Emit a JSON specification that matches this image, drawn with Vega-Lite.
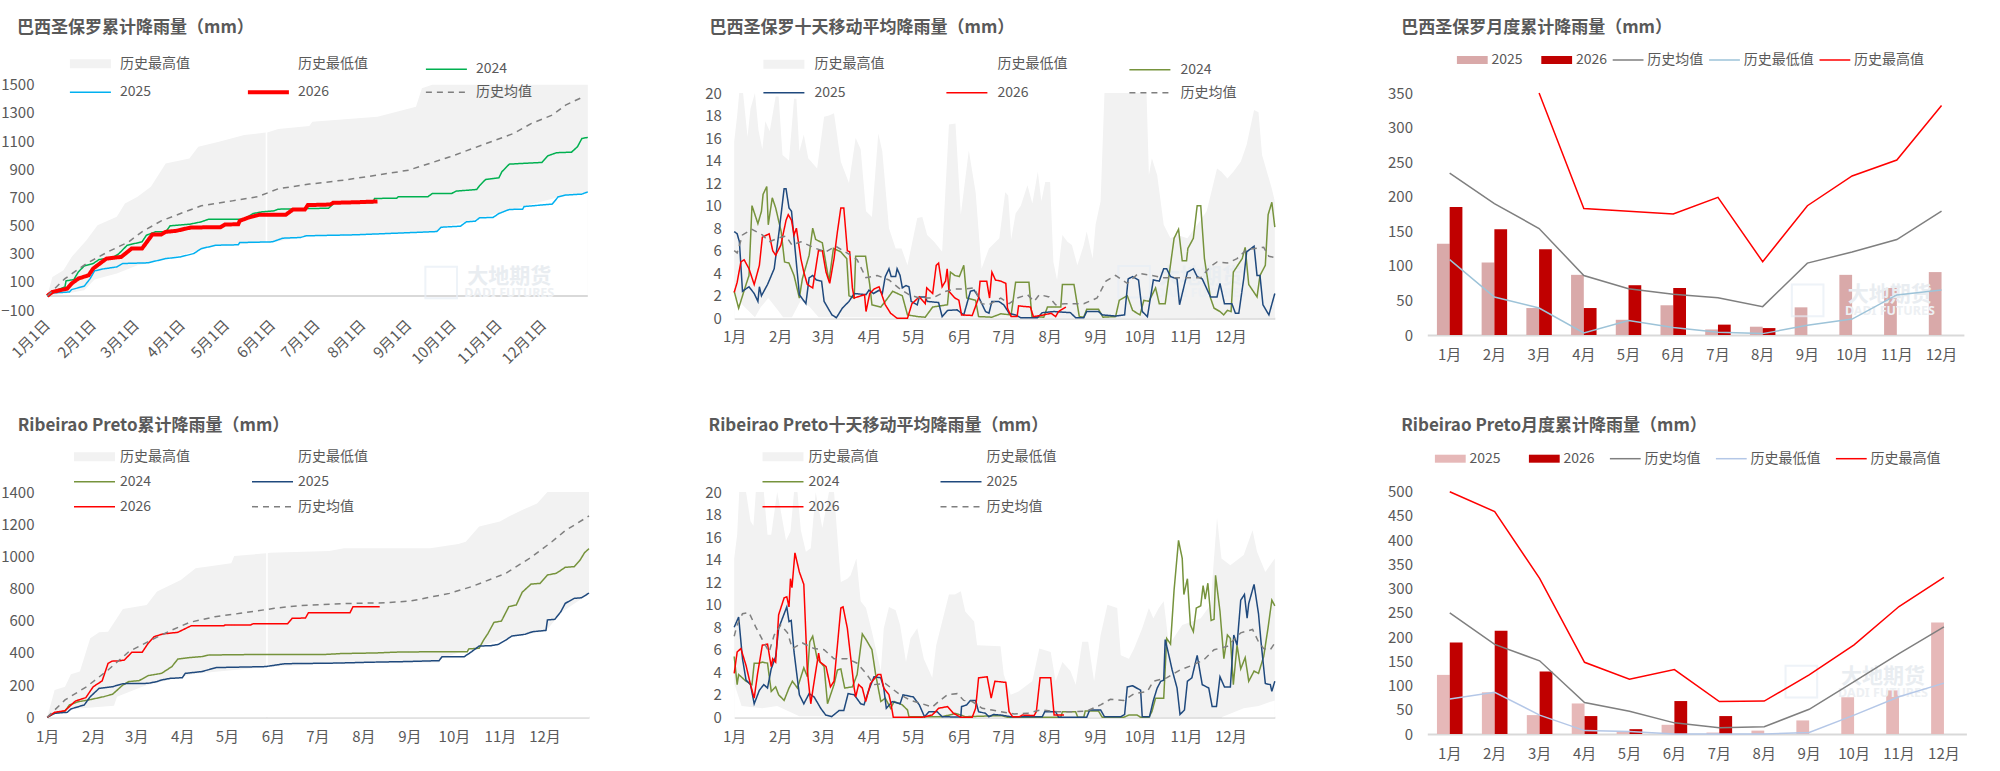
{"$schema":"https://vega.github.io/schema/vega-lite/v6.json","padding":0,"background":"white","bounds":"flush","spacing":0,"columns":3,"align":"each",
"resolve":{"scale":{"color":"independent","strokeWidth":"independent","strokeDash":"independent","xOffset":"independent"},"legend":{"color":"independent","strokeWidth":"independent","strokeDash":"independent"}},
"config":{"view":{"stroke":null},"font":"Noto Sans CJK SC","axis":{"grid":false,"ticks":false,"domain":false,"title":null,"labelFont":"Liberation Sans Narrow, Noto Sans CJK SC","labelFontSize":15,"labelColor":"#595959","labelPadding":0,"labelOverlap":false,"labelBound":false,"labelFlush":false,"domainColor":"#d9d9d9","domainWidth":2},"axisQuantitative":{"format":"d"},"legend":{"orient":"none","direction":"horizontal","title":null,"labelFont":"Liberation Sans Narrow, Noto Sans CJK SC","labelFontSize":14,"labelColor":"#595959","labelLimit":200,"symbolSize":25},"title":{"font":"Noto Sans CJK SC","fontSize":17,"fontWeight":"bold","color":"#595959","anchor":"start","frame":"group","orient":"top","offset":0,"baseline":"alphabetic"}},
"datasets":{
"a":[{"s":"历史最高值","d":1,"v":0},{"s":"历史最高值","d":4.5,"v":135},{"s":"历史最高值","d":12,"v":182},{"s":"历史最高值","d":17.5,"v":277},{"s":"历史最高值","d":27.5,"v":396},{"s":"历史最高值","d":35,"v":502},{"s":"历史最高值","d":48,"v":562},{"s":"历史最高值","d":53.5,"v":656},{"s":"历史最高值","d":62,"v":704},{"s":"历史最高值","d":71,"v":775},{"s":"历史最高值","d":81,"v":941},{"s":"历史最高值","d":97,"v":976},{"s":"历史最高值","d":103,"v":1059},{"s":"历史最高值","d":117,"v":1095},{"s":"历史最高值","d":134,"v":1142},{"s":"历史最高值","d":148.5,"v":1161},{"s":"历史最高值","d":149,"v":null},{"s":"历史最高值","d":149.6,"v":1161},{"s":"历史最高值","d":157,"v":1185},{"s":"历史最高值","d":178,"v":1206},{"s":"历史最高值","d":180,"v":1237},{"s":"历史最高值","d":224,"v":1273},{"s":"历史最高值","d":250,"v":1344},{"s":"历史最高值","d":254,"v":1474},{"s":"历史最高值","d":261,"v":1500},{"s":"历史最高值","d":366,"v":1500},
{"s":"历史最低值","d":1,"v":0},{"s":"历史最低值","d":16,"v":20},{"s":"历史最低值","d":26,"v":40},{"s":"历史最低值","d":33,"v":116},{"s":"历史最低值","d":48,"v":159},{"s":"历史最低值","d":62,"v":218},{"s":"历史最低值","d":69,"v":232},{"s":"历史最低值","d":81,"v":262},{"s":"历史最低值","d":115,"v":357},{"s":"历史最低值","d":153,"v":381},{"s":"历史最低值","d":176,"v":424},{"s":"历史最低值","d":264,"v":455},{"s":"历史最低值","d":267,"v":485},{"s":"历史最低值","d":293,"v":552},{"s":"历史最低值","d":313,"v":611},{"s":"历史最低值","d":346,"v":700},{"s":"历史最低值","d":366,"v":736},
{"s":"2024","d":1,"v":0},{"s":"2024","d":6,"v":35},{"s":"2024","d":13,"v":64},{"s":"2024","d":13.7,"v":107},{"s":"2024","d":19,"v":116},{"s":"2024","d":22,"v":170},{"s":"2024","d":26,"v":213},{"s":"2024","d":32,"v":230},{"s":"2024","d":36,"v":258},{"s":"2024","d":45,"v":272},{"s":"2024","d":49,"v":296},{"s":"2024","d":55,"v":360},{"s":"2024","d":65,"v":384},{"s":"2024","d":68,"v":431},{"s":"2024","d":74,"v":455},{"s":"2024","d":81,"v":455},{"s":"2024","d":84,"v":498},{"s":"2024","d":97,"v":509},{"s":"2024","d":105,"v":526},{"s":"2024","d":110,"v":545},{"s":"2024","d":134,"v":545},{"s":"2024","d":140,"v":585},{"s":"2024","d":146,"v":597},{"s":"2024","d":154,"v":604},{"s":"2024","d":157,"v":616},{"s":"2024","d":191,"v":623},{"s":"2024","d":195,"v":661},{"s":"2024","d":221,"v":661},{"s":"2024","d":222,"v":692},{"s":"2024","d":237,"v":694},{"s":"2024","d":238,"v":704},{"s":"2024","d":258,"v":704},{"s":"2024","d":261,"v":727},{"s":"2024","d":274,"v":727},{"s":"2024","d":277,"v":744},{"s":"2024","d":291,"v":756},{"s":"2024","d":293,"v":784},{"s":"2024","d":297,"v":827},{"s":"2024","d":306,"v":839},{"s":"2024","d":308,"v":882},{"s":"2024","d":313,"v":936},{"s":"2024","d":335,"v":948},{"s":"2024","d":339,"v":995},{"s":"2024","d":345,"v":1017},{"s":"2024","d":355,"v":1021},{"s":"2024","d":359,"v":1059},{"s":"2024","d":362,"v":1118},{"s":"2024","d":366,"v":1126},
{"s":"2025","d":1,"v":0},{"s":"2025","d":4.5,"v":21},{"s":"2025","d":16,"v":28},{"s":"2025","d":17.5,"v":45},{"s":"2025","d":26,"v":69},{"s":"2025","d":30,"v":123},{"s":"2025","d":33,"v":178},{"s":"2025","d":39,"v":192},{"s":"2025","d":48,"v":206},{"s":"2025","d":52,"v":230},{"s":"2025","d":69,"v":235},{"s":"2025","d":81,"v":265},{"s":"2025","d":91,"v":277},{"s":"2025","d":100,"v":301},{"s":"2025","d":105,"v":336},{"s":"2025","d":115,"v":360},{"s":"2025","d":130,"v":363},{"s":"2025","d":131,"v":379},{"s":"2025","d":153,"v":384},{"s":"2025","d":160,"v":410},{"s":"2025","d":172,"v":415},{"s":"2025","d":176,"v":427},{"s":"2025","d":209,"v":434},{"s":"2025","d":264,"v":457},{"s":"2025","d":267,"v":488},{"s":"2025","d":280,"v":495},{"s":"2025","d":284,"v":526},{"s":"2025","d":290,"v":531},{"s":"2025","d":293,"v":555},{"s":"2025","d":302,"v":557},{"s":"2025","d":306,"v":585},{"s":"2025","d":313,"v":614},{"s":"2025","d":322,"v":616},{"s":"2025","d":323,"v":635},{"s":"2025","d":342,"v":652},{"s":"2025","d":346,"v":704},{"s":"2025","d":351,"v":716},{"s":"2025","d":362,"v":723},{"s":"2025","d":366,"v":739},
{"s":"2026","d":1,"v":0},{"s":"2026","d":4.5,"v":28},{"s":"2026","d":14.5,"v":52},{"s":"2026","d":17.5,"v":88},{"s":"2026","d":22,"v":123},{"s":"2026","d":29,"v":147},{"s":"2026","d":32,"v":194},{"s":"2026","d":41,"v":265},{"s":"2026","d":51,"v":277},{"s":"2026","d":58,"v":336},{"s":"2026","d":65,"v":336},{"s":"2026","d":72,"v":436},{"s":"2026","d":78,"v":436},{"s":"2026","d":81,"v":455},{"s":"2026","d":88,"v":462},{"s":"2026","d":98,"v":486},{"s":"2026","d":118,"v":488},{"s":"2026","d":121,"v":507},{"s":"2026","d":130,"v":509},{"s":"2026","d":131,"v":533},{"s":"2026","d":137,"v":557},{"s":"2026","d":144,"v":576},{"s":"2026","d":162,"v":576},{"s":"2026","d":167,"v":614},{"s":"2026","d":175,"v":614},{"s":"2026","d":177,"v":645},{"s":"2026","d":192,"v":649},{"s":"2026","d":194,"v":661},{"s":"2026","d":212,"v":666},{"s":"2026","d":224,"v":671},
{"s":"历史均值","d":1,"v":0},{"s":"历史均值","d":13,"v":123},{"s":"历史均值","d":27.5,"v":230},{"s":"历史均值","d":42,"v":313},{"s":"历史均值","d":56,"v":384},{"s":"历史均值","d":65,"v":455},{"s":"历史均值","d":78,"v":533},{"s":"历史均值","d":91,"v":585},{"s":"历史均值","d":105,"v":640},{"s":"历史均值","d":126,"v":675},{"s":"历史均值","d":143,"v":704},{"s":"历史均值","d":157,"v":761},{"s":"历史均值","d":178,"v":794},{"s":"历史均值","d":201,"v":822},{"s":"历史均值","d":224,"v":858},{"s":"历史均值","d":245,"v":893},{"s":"历史均值","d":273,"v":988},{"s":"历史均值","d":302,"v":1100},{"s":"历史均值","d":316,"v":1154},{"s":"历史均值","d":328,"v":1225},{"s":"历史均值","d":342,"v":1284},{"s":"历史均值","d":351,"v":1355},{"s":"历史均值","d":364,"v":1419}],
"b":[{"s":"历史最高值","d":1,"v":15.7},{"s":"历史最高值","d":3,"v":18},{"s":"历史最高值","d":4.4,"v":20},{"s":"历史最高值","d":7,"v":20},{"s":"历史最高值","d":10,"v":16.1},{"s":"历史最高值","d":12,"v":18.6},{"s":"历史最高值","d":15,"v":20},{"s":"历史最高值","d":17.4,"v":16.7},{"s":"历史最高值","d":20,"v":15},{"s":"历史最高值","d":22,"v":17.5},{"s":"历史最高值","d":25,"v":16.6},{"s":"历史最高值","d":29,"v":19.7},{"s":"历史最高值","d":31,"v":19.7},{"s":"历史最高值","d":33.6,"v":14.5},{"s":"历史最高值","d":38,"v":14},{"s":"历史最高值","d":41.4,"v":19.5},{"s":"历史最高值","d":43,"v":19.5},{"s":"历史最高值","d":45,"v":14.8},{"s":"历史最高值","d":48,"v":16.3},{"s":"历史最高值","d":51,"v":14.2},{"s":"历史最高值","d":57,"v":13.3},{"s":"历史最高值","d":61.7,"v":17.9},{"s":"历史最高值","d":65,"v":18},{"s":"历史最高值","d":68.4,"v":18.2},{"s":"历史最高值","d":73,"v":13.9},{"s":"历史最高值","d":78.5,"v":12},{"s":"历史最高值","d":83,"v":16},{"s":"历史最高值","d":86.4,"v":15},{"s":"历史最高值","d":90,"v":9.5},{"s":"历史最高值","d":94,"v":9},{"s":"历史最高值","d":98.3,"v":16.4},{"s":"历史最高值","d":101,"v":14.8},{"s":"历史最高值","d":105.5,"v":8},{"s":"历史最高值","d":110,"v":6.2},{"s":"历史最高值","d":114,"v":6.2},{"s":"历史最高值","d":118,"v":4.7},{"s":"历史最高值","d":124.6,"v":8.9},{"s":"历史最高值","d":128,"v":9},{"s":"历史最高值","d":131.3,"v":7.4},{"s":"历史最高值","d":136,"v":6.8},{"s":"历史最高值","d":141.4,"v":5.9},{"s":"历史最高值","d":146,"v":17.2},{"s":"历史最高值","d":150.4,"v":17.3},{"s":"历史最高值","d":154,"v":9.2},{"s":"历史最高值","d":159.4,"v":14.9},{"s":"历史最高值","d":164,"v":11.2},{"s":"历史最高值","d":168,"v":4.4},{"s":"历史最高值","d":173,"v":6.2},{"s":"历史最高值","d":180,"v":7.1},{"s":"历史最高值","d":184,"v":11.2},{"s":"历史最高值","d":186,"v":10.9},{"s":"历史最高值","d":188,"v":7},{"s":"历史最高值","d":191,"v":9.3},{"s":"历史最高值","d":194.5,"v":10},{"s":"历史最高值","d":199,"v":11.8},{"s":"历史最高值","d":202.3,"v":10.2},{"s":"历史最高值","d":206,"v":13},{"s":"历史最高值","d":208.4,"v":10.4},{"s":"历史最高值","d":211,"v":12.1},{"s":"历史最高值","d":214.3,"v":12.1},{"s":"历史最高值","d":216.5,"v":5},{"s":"历史最高值","d":219,"v":3.4},{"s":"历史最高值","d":222.6,"v":7.4},{"s":"历史最高值","d":226,"v":6.8},{"s":"历史最高值","d":229,"v":6.5},{"s":"历史最高值","d":232.7,"v":4.7},{"s":"历史最高值","d":237,"v":6.5},{"s":"历史最高值","d":239,"v":7.7},{"s":"历史最高值","d":243,"v":5.3},{"s":"历史最高值","d":245,"v":8.3},{"s":"历史最高值","d":248.4,"v":10.4},{"s":"历史最高值","d":251,"v":20},{"s":"历史最高值","d":279.4,"v":20},{"s":"历史最高值","d":281,"v":12.7},{"s":"历史最高值","d":283,"v":14.2},{"s":"历史最高值","d":286.6,"v":12.7},{"s":"历史最高值","d":291,"v":8.3},{"s":"历史最高值","d":295.6,"v":7.1},{"s":"历史最高值","d":300,"v":7.4},{"s":"历史最高值","d":307,"v":7.1},{"s":"历史最高值","d":313.6,"v":8.3},{"s":"历史最高值","d":320,"v":9.5},{"s":"历史最高值","d":323.7,"v":11.5},{"s":"历史最高值","d":327,"v":13.3},{"s":"历史最高值","d":330,"v":13},{"s":"历史最高值","d":334,"v":12.4},{"s":"历史最高值","d":338,"v":13},{"s":"历史最高值","d":343,"v":13.9},{"s":"历史最高值","d":347,"v":15.4},{"s":"历史最高值","d":352,"v":18.5},{"s":"历史最高值","d":355,"v":18.3},{"s":"历史最高值","d":357.4,"v":14.5},{"s":"历史最高值","d":364,"v":11.5},{"s":"历史最高值","d":366,"v":10.4},
{"s":"历史最低值","d":1,"v":2},{"s":"历史最低值","d":8,"v":1},{"s":"历史最低值","d":15,"v":0.1},{"s":"历史最低值","d":19,"v":1},{"s":"历史最低值","d":24,"v":1.8},{"s":"历史最低值","d":30,"v":0.8},{"s":"历史最低值","d":34,"v":0.1},{"s":"历史最低值","d":40,"v":0.1},{"s":"历史最低值","d":46,"v":1.6},{"s":"历史最低值","d":52,"v":1},{"s":"历史最低值","d":58,"v":0.1},{"s":"历史最低值","d":366,"v":0},
{"s":"2024","d":1,"v":2.4},{"s":"2024","d":4,"v":0.9},{"s":"2024","d":9,"v":3},{"s":"2024","d":11,"v":3.8},{"s":"2024","d":13,"v":10},{"s":"2024","d":17,"v":8.4},{"s":"2024","d":19.4,"v":9.5},{"s":"2024","d":20.5,"v":11},{"s":"2024","d":23,"v":11.7},{"s":"2024","d":24,"v":8.3},{"s":"2024","d":26.7,"v":10.7},{"s":"2024","d":29,"v":9.8},{"s":"2024","d":32.7,"v":7.7},{"s":"2024","d":35,"v":5},{"s":"2024","d":38,"v":4.9},{"s":"2024","d":41.4,"v":3.8},{"s":"2024","d":45,"v":1.8},{"s":"2024","d":47,"v":3.5},{"s":"2024","d":51.6,"v":5.6},{"s":"2024","d":54,"v":8},{"s":"2024","d":56,"v":7},{"s":"2024","d":60.5,"v":6.7},{"s":"2024","d":65,"v":3.3},{"s":"2024","d":68,"v":6.2},{"s":"2024","d":73,"v":5.9},{"s":"2024","d":77,"v":5.3},{"s":"2024","d":78.5,"v":2},{"s":"2024","d":82,"v":1.8},{"s":"2024","d":83,"v":5.5},{"s":"2024","d":89.7,"v":5.5},{"s":"2024","d":92.5,"v":3},{"s":"2024","d":94,"v":1.2},{"s":"2024","d":100,"v":1},{"s":"2024","d":103,"v":1.5},{"s":"2024","d":108,"v":2.4},{"s":"2024","d":114.5,"v":2},{"s":"2024","d":118,"v":0.3},{"s":"2024","d":125,"v":0.15},{"s":"2024","d":130,"v":0.1},{"s":"2024","d":135,"v":1},{"s":"2024","d":145,"v":1.2},{"s":"2024","d":147,"v":4.1},{"s":"2024","d":150,"v":3.8},{"s":"2024","d":153,"v":3.7},{"s":"2024","d":156,"v":4.7},{"s":"2024","d":158,"v":1.8},{"s":"2024","d":164,"v":1.6},{"s":"2024","d":166,"v":0.15},{"s":"2024","d":175,"v":0.1},{"s":"2024","d":181,"v":0.4},{"s":"2024","d":188,"v":0.3},{"s":"2024","d":191,"v":3.2},{"s":"2024","d":200,"v":3.2},{"s":"2024","d":202,"v":0.15},{"s":"2024","d":210,"v":0.1},{"s":"2024","d":212.5,"v":1},{"s":"2024","d":221.5,"v":1},{"s":"2024","d":222.6,"v":3},{"s":"2024","d":230.4,"v":3},{"s":"2024","d":234,"v":0.15},{"s":"2024","d":237,"v":0.1},{"s":"2024","d":239,"v":0.8},{"s":"2024","d":247,"v":0.8},{"s":"2024","d":250,"v":0.1},{"s":"2024","d":258.5,"v":0.15},{"s":"2024","d":261,"v":1.6},{"s":"2024","d":266.4,"v":2},{"s":"2024","d":270,"v":0.7},{"s":"2024","d":275,"v":0.3},{"s":"2024","d":277.6,"v":1.6},{"s":"2024","d":281,"v":1.5},{"s":"2024","d":285.5,"v":2.7},{"s":"2024","d":288,"v":1.3},{"s":"2024","d":292,"v":1.3},{"s":"2024","d":298,"v":7.1},{"s":"2024","d":301,"v":7.9},{"s":"2024","d":303.5,"v":5.1},{"s":"2024","d":306.4,"v":5.1},{"s":"2024","d":307.3,"v":6.2},{"s":"2024","d":311,"v":7.1},{"s":"2024","d":313.6,"v":10},{"s":"2024","d":316,"v":10},{"s":"2024","d":318.5,"v":5.3},{"s":"2024","d":322.6,"v":1.8},{"s":"2024","d":325,"v":0.9},{"s":"2024","d":329,"v":0.6},{"s":"2024","d":331.5,"v":0.3},{"s":"2024","d":334,"v":0.7},{"s":"2024","d":336.5,"v":0.6},{"s":"2024","d":338,"v":4.1},{"s":"2024","d":344,"v":5.3},{"s":"2024","d":346,"v":6.3},{"s":"2024","d":348.4,"v":3},{"s":"2024","d":354,"v":1.9},{"s":"2024","d":356,"v":3.8},{"s":"2024","d":359.6,"v":4.7},{"s":"2024","d":361.5,"v":9.2},{"s":"2024","d":364,"v":10.3},{"s":"2024","d":366,"v":8.1},
{"s":"2025","d":1,"v":7.7},{"s":"2025","d":3,"v":7.5},{"s":"2025","d":4.5,"v":6.8},{"s":"2025","d":6.6,"v":2.4},{"s":"2025","d":11,"v":2.8},{"s":"2025","d":14.5,"v":2.2},{"s":"2025","d":17,"v":1.5},{"s":"2025","d":18,"v":2.8},{"s":"2025","d":19.4,"v":2},{"s":"2025","d":23.5,"v":3},{"s":"2025","d":28,"v":4.4},{"s":"2025","d":31.3,"v":7.7},{"s":"2025","d":34.7,"v":11.5},{"s":"2025","d":36,"v":11.5},{"s":"2025","d":38,"v":9.8},{"s":"2025","d":39.7,"v":9.5},{"s":"2025","d":41.4,"v":7.1},{"s":"2025","d":45,"v":2.1},{"s":"2025","d":49.4,"v":1.3},{"s":"2025","d":51.6,"v":3.6},{"s":"2025","d":54,"v":3.8},{"s":"2025","d":56.5,"v":3.4},{"s":"2025","d":60,"v":3.3},{"s":"2025","d":61.7,"v":1.5},{"s":"2025","d":67,"v":0.3},{"s":"2025","d":70,"v":0.05},{"s":"2025","d":74,"v":0.9},{"s":"2025","d":78.5,"v":1.5},{"s":"2025","d":82,"v":2.2},{"s":"2025","d":90,"v":2.1},{"s":"2025","d":92,"v":2.5},{"s":"2025","d":95,"v":2.2},{"s":"2025","d":99,"v":2.5},{"s":"2025","d":101,"v":2.2},{"s":"2025","d":103,"v":3.7},{"s":"2025","d":105.5,"v":4.4},{"s":"2025","d":107,"v":3.7},{"s":"2025","d":110,"v":3.7},{"s":"2025","d":111,"v":4.4},{"s":"2025","d":113,"v":3.8},{"s":"2025","d":114.5,"v":2.7},{"s":"2025","d":117,"v":2.9},{"s":"2025","d":119,"v":2.8},{"s":"2025","d":120.5,"v":1.5},{"s":"2025","d":124.6,"v":1.2},{"s":"2025","d":126,"v":1.9},{"s":"2025","d":130,"v":1.9},{"s":"2025","d":131.3,"v":1.5},{"s":"2025","d":139,"v":1.4},{"s":"2025","d":141.4,"v":0.15},{"s":"2025","d":145,"v":0.7},{"s":"2025","d":151.5,"v":0.75},{"s":"2025","d":156,"v":0.3},{"s":"2025","d":160.5,"v":2.4},{"s":"2025","d":163,"v":2.5},{"s":"2025","d":166,"v":1.9},{"s":"2025","d":170.7,"v":0.6},{"s":"2025","d":173,"v":0.45},{"s":"2025","d":175,"v":1.5},{"s":"2025","d":179.6,"v":1.5},{"s":"2025","d":183,"v":1.2},{"s":"2025","d":186.6,"v":0.45},{"s":"2025","d":191,"v":0.3},{"s":"2025","d":194.5,"v":0.05},{"s":"2025","d":205.7,"v":0.05},{"s":"2025","d":209,"v":0.5},{"s":"2025","d":217,"v":0.6},{"s":"2025","d":228,"v":0.5},{"s":"2025","d":231.6,"v":0.05},{"s":"2025","d":237,"v":0.05},{"s":"2025","d":239,"v":0.6},{"s":"2025","d":247,"v":0.6},{"s":"2025","d":249.5,"v":0.3},{"s":"2025","d":258.5,"v":0.2},{"s":"2025","d":264.6,"v":0.3},{"s":"2025","d":267,"v":3.5},{"s":"2025","d":270,"v":3.7},{"s":"2025","d":274,"v":3.4},{"s":"2025","d":276.5,"v":0.6},{"s":"2025","d":280,"v":0.15},{"s":"2025","d":284,"v":3.4},{"s":"2025","d":288,"v":3.3},{"s":"2025","d":291,"v":4.4},{"s":"2025","d":293,"v":4.4},{"s":"2025","d":295.6,"v":3.7},{"s":"2025","d":300,"v":3.5},{"s":"2025","d":301.7,"v":1.2},{"s":"2025","d":307,"v":4.1},{"s":"2025","d":311,"v":4.4},{"s":"2025","d":313.6,"v":3.7},{"s":"2025","d":317,"v":3.5},{"s":"2025","d":322.6,"v":1.9},{"s":"2025","d":327,"v":1.9},{"s":"2025","d":329,"v":3.1},{"s":"2025","d":332,"v":1.3},{"s":"2025","d":337,"v":1.3},{"s":"2025","d":339.4,"v":0.45},{"s":"2025","d":341.7,"v":0.45},{"s":"2025","d":345,"v":3.5},{"s":"2025","d":347,"v":5.9},{"s":"2025","d":352,"v":6.4},{"s":"2025","d":354,"v":3.8},{"s":"2025","d":356,"v":3.8},{"s":"2025","d":358,"v":1.2},{"s":"2025","d":362,"v":0.3},{"s":"2025","d":366,"v":2.2},
{"s":"2026","d":1,"v":2.3},{"s":"2026","d":3,"v":3.2},{"s":"2026","d":5.5,"v":5},{"s":"2026","d":7.7,"v":5.2},{"s":"2026","d":11,"v":4.4},{"s":"2026","d":14.5,"v":3},{"s":"2026","d":18,"v":4.7},{"s":"2026","d":20,"v":7.2},{"s":"2026","d":24.6,"v":7.5},{"s":"2026","d":27,"v":6},{"s":"2026","d":29,"v":5.6},{"s":"2026","d":32.5,"v":6.5},{"s":"2026","d":36,"v":8.7},{"s":"2026","d":37.5,"v":9.2},{"s":"2026","d":39.7,"v":8.7},{"s":"2026","d":41.4,"v":7.4},{"s":"2026","d":43,"v":8},{"s":"2026","d":46,"v":5.3},{"s":"2026","d":48,"v":4.1},{"s":"2026","d":50.4,"v":3},{"s":"2026","d":54,"v":2.7},{"s":"2026","d":57.9,"v":6},{"s":"2026","d":60.5,"v":6},{"s":"2026","d":63,"v":4.1},{"s":"2026","d":65.5,"v":3.1},{"s":"2026","d":68.4,"v":5.3},{"s":"2026","d":70.7,"v":7.7},{"s":"2026","d":73,"v":9.8},{"s":"2026","d":75,"v":9.8},{"s":"2026","d":77.4,"v":6},{"s":"2026","d":79,"v":5.9},{"s":"2026","d":80.8,"v":2.7},{"s":"2026","d":82,"v":1.8},{"s":"2026","d":89,"v":2.1},{"s":"2026","d":90,"v":0.6},{"s":"2026","d":92.5,"v":2.2},{"s":"2026","d":95.4,"v":2.6},{"s":"2026","d":98.8,"v":2.8},{"s":"2026","d":103,"v":1.2},{"s":"2026","d":106.6,"v":0.45},{"s":"2026","d":111,"v":0},{"s":"2026","d":118,"v":0},{"s":"2026","d":121,"v":1.3},{"s":"2026","d":126,"v":1.9},{"s":"2026","d":130,"v":1.3},{"s":"2026","d":131,"v":2.7},{"s":"2026","d":135,"v":2.2},{"s":"2026","d":137.4,"v":4.7},{"s":"2026","d":139,"v":4.9},{"s":"2026","d":141.4,"v":2.8},{"s":"2026","d":143.7,"v":3.3},{"s":"2026","d":144.8,"v":4.4},{"s":"2026","d":146,"v":2.4},{"s":"2026","d":150,"v":1.8},{"s":"2026","d":152.7,"v":1.6},{"s":"2026","d":154.5,"v":0.3},{"s":"2026","d":161.7,"v":0.25},{"s":"2026","d":166,"v":1.8},{"s":"2026","d":167,"v":3.3},{"s":"2026","d":171.5,"v":3.3},{"s":"2026","d":173.4,"v":1.8},{"s":"2026","d":175,"v":4.1},{"s":"2026","d":177.4,"v":3.4},{"s":"2026","d":181,"v":3.3},{"s":"2026","d":184.4,"v":3.1},{"s":"2026","d":185.5,"v":0.9},{"s":"2026","d":188,"v":0.15},{"s":"2026","d":192,"v":0.15},{"s":"2026","d":193,"v":1.1},{"s":"2026","d":201,"v":1},{"s":"2026","d":203,"v":0.15},{"s":"2026","d":210,"v":0.3},{"s":"2026","d":215,"v":0.45},{"s":"2026","d":218,"v":0.15},{"s":"2026","d":220,"v":0.6},{"s":"2026","d":225,"v":1},
{"s":"历史均值","d":1,"v":6},{"s":"历史均值","d":3,"v":5.8},{"s":"历史均值","d":6.6,"v":7.4},{"s":"历史均值","d":13,"v":7.9},{"s":"历史均值","d":20,"v":7.4},{"s":"历史均值","d":24.6,"v":6.8},{"s":"历史均值","d":32.5,"v":7.2},{"s":"历史均值","d":36,"v":7.3},{"s":"历史均值","d":40,"v":6.5},{"s":"历史均值","d":46,"v":6.8},{"s":"历史均值","d":56,"v":6.2},{"s":"历史均值","d":63,"v":5.9},{"s":"历史均值","d":69.5,"v":6.4},{"s":"历史均值","d":79.6,"v":5.6},{"s":"历史均值","d":84,"v":5.2},{"s":"历史均值","d":90,"v":3.6},{"s":"历史均值","d":97.6,"v":3.8},{"s":"历史均值","d":105.5,"v":3.4},{"s":"历史均值","d":112,"v":2.7},{"s":"历史均值","d":119,"v":2.1},{"s":"历史均值","d":126,"v":1.8},{"s":"历史均值","d":135,"v":1.8},{"s":"历史均值","d":144,"v":2.4},{"s":"历史均值","d":150,"v":2.6},{"s":"历史均值","d":157,"v":2.6},{"s":"历史均值","d":163,"v":2.7},{"s":"历史均值","d":168,"v":1.3},{"s":"历史均值","d":173,"v":1.2},{"s":"历史均值","d":181,"v":1.8},{"s":"历史均值","d":186.6,"v":1.3},{"s":"历史均值","d":192,"v":1.8},{"s":"历史均值","d":199,"v":2.1},{"s":"历史均值","d":203.5,"v":1.5},{"s":"历史均值","d":207,"v":2.1},{"s":"历史均值","d":213.6,"v":1.9},{"s":"历史均值","d":218,"v":1.2},{"s":"历史均值","d":224,"v":1.3},{"s":"历史均值","d":229,"v":1.3},{"s":"历史均值","d":237,"v":1.3},{"s":"历史均值","d":246,"v":1.8},{"s":"历史均值","d":252,"v":3.3},{"s":"历史均值","d":258.5,"v":3.8},{"s":"历史均值","d":266.4,"v":3.1},{"s":"历史均值","d":274,"v":4},{"s":"历史均值","d":283,"v":3.8},{"s":"历史均值","d":291,"v":3.6},{"s":"历史均值","d":302.4,"v":3.6},{"s":"历史均值","d":316,"v":3.6},{"s":"历史均值","d":322.6,"v":4.6},{"s":"历史均值","d":327,"v":5},{"s":"历史均值","d":334,"v":4.9},{"s":"历史均值","d":340.5,"v":5.3},{"s":"历史均值","d":347,"v":6.1},{"s":"历史均值","d":358.5,"v":6.3},{"s":"历史均值","d":362,"v":5.5},{"s":"历史均值","d":366,"v":5.4}],
"c":[{"m":"1月","s":"2025","v":132},{"m":"2月","s":"2025","v":105},{"m":"3月","s":"2025","v":39},{"m":"4月","s":"2025","v":87},{"m":"5月","s":"2025","v":22},{"m":"6月","s":"2025","v":43},{"m":"7月","s":"2025","v":8},{"m":"8月","s":"2025","v":12},{"m":"9月","s":"2025","v":40},{"m":"10月","s":"2025","v":87},{"m":"11月","s":"2025","v":68},{"m":"12月","s":"2025","v":91},
{"m":"1月","s":"2026","v":185},{"m":"2月","s":"2026","v":153},{"m":"3月","s":"2026","v":124},{"m":"4月","s":"2026","v":39},{"m":"5月","s":"2026","v":72},{"m":"6月","s":"2026","v":68},{"m":"7月","s":"2026","v":15},{"m":"8月","s":"2026","v":10},
{"m":"1月","s":"历史均值","v":234},{"m":"2月","s":"历史均值","v":190},{"m":"3月","s":"历史均值","v":154},{"m":"4月","s":"历史均值","v":86},{"m":"5月","s":"历史均值","v":67},{"m":"6月","s":"历史均值","v":59},{"m":"7月","s":"历史均值","v":54},{"m":"8月","s":"历史均值","v":41},{"m":"9月","s":"历史均值","v":104},{"m":"10月","s":"历史均值","v":120},{"m":"11月","s":"历史均值","v":138},{"m":"12月","s":"历史均值","v":179},
{"m":"1月","s":"历史最低值","v":109},{"m":"2月","s":"历史最低值","v":55},{"m":"3月","s":"历史最低值","v":39},{"m":"4月","s":"历史最低值","v":3},{"m":"5月","s":"历史最低值","v":21},{"m":"6月","s":"历史最低值","v":11},{"m":"7月","s":"历史最低值","v":4},{"m":"8月","s":"历史最低值","v":2},{"m":"9月","s":"历史最低值","v":14},{"m":"10月","s":"历史最低值","v":23},{"m":"11月","s":"历史最低值","v":58},{"m":"12月","s":"历史最低值","v":65},
{"m":"3月","s":"历史最高值","v":350},{"m":"4月","s":"历史最高值","v":183},{"m":"5月","s":"历史最高值","v":179},{"m":"6月","s":"历史最高值","v":175},{"m":"7月","s":"历史最高值","v":199},{"m":"8月","s":"历史最高值","v":106},{"m":"9月","s":"历史最高值","v":187},{"m":"10月","s":"历史最高值","v":230},{"m":"11月","s":"历史最高值","v":253},{"m":"12月","s":"历史最高值","v":332}],
"e":[{"s":"历史最高值","d":1,"v":0},{"s":"历史最高值","d":6,"v":170},{"s":"历史最高值","d":13,"v":190},{"s":"历史最高值","d":17,"v":267},{"s":"历史最高值","d":23,"v":284},{"s":"历史最高值","d":30,"v":491},{"s":"历史最高值","d":36,"v":528},{"s":"历史最高值","d":42,"v":532},{"s":"历史最高值","d":52,"v":673},{"s":"历史最高值","d":68,"v":698},{"s":"历史最高值","d":75,"v":781},{"s":"历史最高值","d":91,"v":853},{"s":"历史最高值","d":101,"v":926},{"s":"历史最高值","d":125,"v":957},{"s":"历史最高值","d":127,"v":1002},{"s":"历史最高值","d":148.5,"v":1019},{"s":"历史最高值","d":149,"v":null},{"s":"历史最高值","d":149.6,"v":1019},{"s":"历史最高值","d":151,"v":1023},{"s":"历史最高值","d":191,"v":1033},{"s":"历史最高值","d":201,"v":1050},{"s":"历史最高值","d":259,"v":1050},{"s":"历史最高值","d":278,"v":1077},{"s":"历史最高值","d":283,"v":1091},{"s":"历史最高值","d":292,"v":1185},{"s":"历史最高值","d":306,"v":1216},{"s":"历史最高值","d":312,"v":1247},{"s":"历史最高值","d":321,"v":1288},{"s":"历史最高值","d":331,"v":1329},{"s":"历史最高值","d":338,"v":1400},{"s":"历史最高值","d":366,"v":1400},
{"s":"历史最低值","d":1,"v":0},{"s":"历史最低值","d":16,"v":50},{"s":"历史最低值","d":46,"v":72},{"s":"历史最低值","d":48,"v":128},{"s":"历史最低值","d":65,"v":190},{"s":"历史最低值","d":69,"v":200},{"s":"历史最低值","d":100,"v":270},{"s":"历史最低值","d":148,"v":312},{"s":"历史最低值","d":197,"v":335},{"s":"历史最低值","d":265,"v":340},{"s":"历史最低值","d":267,"v":370},{"s":"历史最低值","d":292,"v":440},{"s":"历史最低值","d":314,"v":500},{"s":"历史最低值","d":337,"v":535},{"s":"历史最低值","d":347,"v":650},{"s":"历史最低值","d":366,"v":768},
{"s":"2024","d":1,"v":0},{"s":"2024","d":6,"v":25},{"s":"2024","d":13,"v":39},{"s":"2024","d":16,"v":77},{"s":"2024","d":22,"v":97},{"s":"2024","d":29,"v":108},{"s":"2024","d":39,"v":128},{"s":"2024","d":45,"v":143},{"s":"2024","d":52,"v":201},{"s":"2024","d":56,"v":222},{"s":"2024","d":63,"v":228},{"s":"2024","d":69,"v":259},{"s":"2024","d":78,"v":273},{"s":"2024","d":85,"v":315},{"s":"2024","d":89,"v":362},{"s":"2024","d":97,"v":371},{"s":"2024","d":105,"v":377},{"s":"2024","d":110,"v":387},{"s":"2024","d":148,"v":391},{"s":"2024","d":189,"v":391},{"s":"2024","d":199,"v":396},{"s":"2024","d":223,"v":400},{"s":"2024","d":239,"v":406},{"s":"2024","d":284,"v":408},{"s":"2024","d":285,"v":425},{"s":"2024","d":292,"v":429},{"s":"2024","d":295,"v":480},{"s":"2024","d":298,"v":522},{"s":"2024","d":302,"v":590},{"s":"2024","d":307,"v":598},{"s":"2024","d":312,"v":688},{"s":"2024","d":317,"v":698},{"s":"2024","d":321,"v":777},{"s":"2024","d":327,"v":828},{"s":"2024","d":333,"v":832},{"s":"2024","d":338,"v":884},{"s":"2024","d":344,"v":895},{"s":"2024","d":350,"v":932},{"s":"2024","d":356,"v":936},{"s":"2024","d":360,"v":977},{"s":"2024","d":363,"v":1023},{"s":"2024","d":366,"v":1048},
{"s":"2025","d":1,"v":0},{"s":"2025","d":6,"v":25},{"s":"2025","d":14.5,"v":31},{"s":"2025","d":17,"v":52},{"s":"2025","d":26,"v":77},{"s":"2025","d":30,"v":128},{"s":"2025","d":36,"v":180},{"s":"2025","d":45,"v":190},{"s":"2025","d":52,"v":209},{"s":"2025","d":69,"v":211},{"s":"2025","d":75,"v":222},{"s":"2025","d":78,"v":232},{"s":"2025","d":84,"v":242},{"s":"2025","d":92,"v":246},{"s":"2025","d":94,"v":273},{"s":"2025","d":105,"v":284},{"s":"2025","d":109,"v":294},{"s":"2025","d":115,"v":309},{"s":"2025","d":148,"v":315},{"s":"2025","d":161,"v":333},{"s":"2025","d":197,"v":337},{"s":"2025","d":217,"v":342},{"s":"2025","d":241,"v":346},{"s":"2025","d":265,"v":352},{"s":"2025","d":267,"v":377},{"s":"2025","d":282,"v":377},{"s":"2025","d":287,"v":408},{"s":"2025","d":292,"v":443},{"s":"2025","d":300,"v":445},{"s":"2025","d":305,"v":453},{"s":"2025","d":310,"v":480},{"s":"2025","d":314,"v":505},{"s":"2025","d":323,"v":516},{"s":"2025","d":328,"v":532},{"s":"2025","d":337,"v":540},{"s":"2025","d":338,"v":605},{"s":"2025","d":343,"v":609},{"s":"2025","d":347,"v":656},{"s":"2025","d":350,"v":708},{"s":"2025","d":356,"v":739},{"s":"2025","d":361,"v":743},{"s":"2025","d":366,"v":772},
{"s":"2026","d":1,"v":0},{"s":"2026","d":6,"v":31},{"s":"2026","d":13,"v":41},{"s":"2026","d":20,"v":101},{"s":"2026","d":27,"v":122},{"s":"2026","d":32,"v":190},{"s":"2026","d":38,"v":226},{"s":"2026","d":42,"v":335},{"s":"2026","d":45,"v":350},{"s":"2026","d":49,"v":350},{"s":"2026","d":53,"v":356},{"s":"2026","d":58,"v":404},{"s":"2026","d":65,"v":404},{"s":"2026","d":69,"v":460},{"s":"2026","d":73,"v":501},{"s":"2026","d":79,"v":518},{"s":"2026","d":89,"v":528},{"s":"2026","d":98,"v":569},{"s":"2026","d":120,"v":569},{"s":"2026","d":121,"v":574},{"s":"2026","d":138,"v":574},{"s":"2026","d":140,"v":582},{"s":"2026","d":163,"v":582},{"s":"2026","d":166,"v":615},{"s":"2026","d":175,"v":617},{"s":"2026","d":177,"v":650},{"s":"2026","d":205,"v":650},{"s":"2026","d":207,"v":687},{"s":"2026","d":225,"v":687},
{"s":"历史均值","d":1,"v":0},{"s":"历史均值","d":13,"v":108},{"s":"历史均值","d":27.5,"v":190},{"s":"历史均值","d":42,"v":294},{"s":"历史均值","d":56,"v":408},{"s":"历史均值","d":71,"v":480},{"s":"历史均值","d":85,"v":542},{"s":"历史均值","d":97,"v":590},{"s":"历史均值","d":114,"v":625},{"s":"历史均值","d":131,"v":646},{"s":"历史均值","d":154,"v":677},{"s":"历史均值","d":171,"v":694},{"s":"历史均值","d":200,"v":706},{"s":"历史均值","d":229,"v":712},{"s":"历史均值","d":246,"v":723},{"s":"历史均值","d":272,"v":770},{"s":"历史均值","d":287,"v":812},{"s":"历史均值","d":310,"v":895},{"s":"历史均值","d":327,"v":994},{"s":"历史均值","d":341,"v":1091},{"s":"历史均值","d":350,"v":1160},{"s":"历史均值","d":366,"v":1251}],
"f":[{"s":"历史最高值","d":1,"v":14.1},{"s":"历史最高值","d":3,"v":16.2},{"s":"历史最高值","d":4.4,"v":20},{"s":"历史最高值","d":9,"v":20},{"s":"历史最高值","d":12,"v":17.4},{"s":"历史最高值","d":14,"v":17},{"s":"历史最高值","d":15.6,"v":20},{"s":"历史最高值","d":21,"v":20},{"s":"历史最高值","d":23.5,"v":16.2},{"s":"历史最高值","d":26,"v":16.2},{"s":"历史最高值","d":30,"v":20},{"s":"历史最高值","d":32.5,"v":18.3},{"s":"历史最高值","d":36,"v":15.7},{"s":"历史最高值","d":39,"v":16.5},{"s":"历史最高值","d":41.4,"v":20},{"s":"历史最高值","d":43.7,"v":20},{"s":"历史最高值","d":46,"v":16.6},{"s":"历史最高值","d":49.4,"v":14.7},{"s":"历史最高值","d":52.7,"v":15},{"s":"历史最高值","d":56,"v":20},{"s":"历史最高值","d":60.5,"v":16.8},{"s":"历史最高值","d":65,"v":20},{"s":"历史最高值","d":68.4,"v":20},{"s":"历史最高值","d":73,"v":12},{"s":"历史最高值","d":77.4,"v":12.3},{"s":"历史最高值","d":79.6,"v":12.6},{"s":"历史最高值","d":83.5,"v":14.1},{"s":"历史最高值","d":86.4,"v":10.3},{"s":"历史最高值","d":90,"v":9.7},{"s":"历史最高值","d":94,"v":7.6},{"s":"历史最高值","d":100,"v":4.1},{"s":"历史最高值","d":102,"v":7.9},{"s":"历史最高值","d":105.5,"v":9.8},{"s":"历史最高值","d":110,"v":9.5},{"s":"历史最高值","d":113,"v":8.2},{"s":"历史最高值","d":117,"v":4.9},{"s":"历史最高值","d":120,"v":7},{"s":"历史最高值","d":124.6,"v":7.9},{"s":"历史最高值","d":129,"v":5.2},{"s":"历史最高值","d":134.7,"v":3.5},{"s":"历史最高值","d":137.4,"v":6.4},{"s":"历史最高值","d":146,"v":10.9},{"s":"历史最高值","d":150,"v":10.9},{"s":"历史最高值","d":154,"v":11.2},{"s":"历史最高值","d":157,"v":9.4},{"s":"历史最高值","d":163,"v":8.5},{"s":"历史最高值","d":165,"v":6.4},{"s":"历史最高值","d":180.8,"v":6.3},{"s":"历史最高值","d":183,"v":3.8},{"s":"历史最高值","d":187.7,"v":2},{"s":"历史最高值","d":193,"v":2.3},{"s":"历史最高值","d":199,"v":2.9},{"s":"历史最高值","d":202.3,"v":3.2},{"s":"历史最高值","d":207,"v":6.1},{"s":"历史最高值","d":214.7,"v":5.8},{"s":"历史最高值","d":218,"v":3.2},{"s":"历史最高值","d":222.6,"v":4.9},{"s":"历史最高值","d":228,"v":4.1},{"s":"历史最高值","d":231.6,"v":2.9},{"s":"历史最高值","d":236,"v":6.7},{"s":"历史最高值","d":240,"v":6.7},{"s":"历史最高值","d":244,"v":3.2},{"s":"历史最高值","d":248.4,"v":7.3},{"s":"历史最高值","d":253,"v":10},{"s":"历史最高值","d":259.6,"v":9.7},{"s":"历史最高值","d":262,"v":5.5},{"s":"历史最高值","d":267.5,"v":5.2},{"s":"历史最高值","d":271,"v":6.1},{"s":"历史最高值","d":276.5,"v":7.9},{"s":"历史最高值","d":281,"v":9.7},{"s":"历史最高值","d":284,"v":8.8},{"s":"历史最高值","d":287.7,"v":9.7},{"s":"历史最高值","d":291,"v":10.3},{"s":"历史最高值","d":294.5,"v":6.4},{"s":"历史最高值","d":303.5,"v":8.2},{"s":"历史最高值","d":316,"v":8.8},{"s":"历史最高值","d":322.6,"v":10},{"s":"历史最高值","d":327,"v":17.7},{"s":"历史最高值","d":330,"v":14.1},{"s":"历史最高值","d":336,"v":13.5},{"s":"历史最高值","d":345,"v":14.4},{"s":"历史最高值","d":351,"v":16.6},{"s":"历史最高值","d":354,"v":14.7},{"s":"历史最高值","d":359.6,"v":12.9},{"s":"历史最高值","d":366,"v":14.1},
{"s":"历史最低值","d":1,"v":3},{"s":"历史最低值","d":6,"v":1},{"s":"历史最低值","d":20,"v":0.8},{"s":"历史最低值","d":30,"v":1},{"s":"历史最低值","d":45,"v":0.1},{"s":"历史最低值","d":330,"v":0},{"s":"历史最低值","d":345,"v":0.8},{"s":"历史最低值","d":355,"v":1},{"s":"历史最低值","d":366,"v":1.5},
{"s":"2024","d":1,"v":5.4},{"s":"2024","d":3,"v":2.9},{"s":"2024","d":4,"v":3.8},{"s":"2024","d":9,"v":3.2},{"s":"2024","d":13,"v":2.9},{"s":"2024","d":14.5,"v":4.8},{"s":"2024","d":18,"v":4.8},{"s":"2024","d":20,"v":4.9},{"s":"2024","d":23.5,"v":4.8},{"s":"2024","d":26,"v":2.3},{"s":"2024","d":29,"v":2.7},{"s":"2024","d":31,"v":2},{"s":"2024","d":34.7,"v":1.5},{"s":"2024","d":38,"v":2.6},{"s":"2024","d":40.3,"v":3.2},{"s":"2024","d":43.7,"v":2.6},{"s":"2024","d":48,"v":4.4},{"s":"2024","d":50.4,"v":3.6},{"s":"2024","d":52,"v":6.7},{"s":"2024","d":54,"v":7.2},{"s":"2024","d":57,"v":5.2},{"s":"2024","d":61.7,"v":4.5},{"s":"2024","d":64,"v":1.2},{"s":"2024","d":68.4,"v":2.9},{"s":"2024","d":70.7,"v":4.2},{"s":"2024","d":73,"v":4.3},{"s":"2024","d":75.6,"v":2.6},{"s":"2024","d":80.8,"v":2.7},{"s":"2024","d":84,"v":3.8},{"s":"2024","d":87.5,"v":7.4},{"s":"2024","d":90,"v":6.9},{"s":"2024","d":94,"v":6},{"s":"2024","d":96.5,"v":3.8},{"s":"2024","d":100,"v":1.4},{"s":"2024","d":103,"v":1.7},{"s":"2024","d":106.6,"v":0.8},{"s":"2024","d":109,"v":1.4},{"s":"2024","d":114.5,"v":1.1},{"s":"2024","d":118,"v":0.65},{"s":"2024","d":119,"v":0.05},{"s":"2024","d":141,"v":0.05},{"s":"2024","d":148,"v":0.25},{"s":"2024","d":150,"v":0.35},{"s":"2024","d":154,"v":0.2},{"s":"2024","d":157,"v":0.05},{"s":"2024","d":181,"v":0.15},{"s":"2024","d":185.5,"v":0},{"s":"2024","d":221.5,"v":0},{"s":"2024","d":222.6,"v":0.5},{"s":"2024","d":231.5,"v":0.5},{"s":"2024","d":233,"v":0},{"s":"2024","d":237,"v":0},{"s":"2024","d":238,"v":0.55},{"s":"2024","d":247,"v":0.55},{"s":"2024","d":249.5,"v":0},{"s":"2024","d":264,"v":0},{"s":"2024","d":267.5,"v":0.2},{"s":"2024","d":273,"v":0.2},{"s":"2024","d":275.4,"v":0},{"s":"2024","d":281,"v":0},{"s":"2024","d":283,"v":0.5},{"s":"2024","d":285.5,"v":1.7},{"s":"2024","d":291,"v":1.7},{"s":"2024","d":293,"v":7},{"s":"2024","d":295.6,"v":6.5},{"s":"2024","d":298,"v":11.3},{"s":"2024","d":301,"v":15.7},{"s":"2024","d":303.5,"v":14.1},{"s":"2024","d":304.6,"v":10.9},{"s":"2024","d":307,"v":12.3},{"s":"2024","d":309,"v":8.2},{"s":"2024","d":311,"v":7.6},{"s":"2024","d":313,"v":9.7},{"s":"2024","d":316,"v":9.9},{"s":"2024","d":317.6,"v":11.7},{"s":"2024","d":319,"v":10.5},{"s":"2024","d":320.8,"v":11.9},{"s":"2024","d":323,"v":8.6},{"s":"2024","d":325,"v":8.7},{"s":"2024","d":326,"v":12.6},{"s":"2024","d":329,"v":9.4},{"s":"2024","d":331.6,"v":5.2},{"s":"2024","d":334,"v":7.3},{"s":"2024","d":336,"v":7},{"s":"2024","d":338,"v":2.9},{"s":"2024","d":340.5,"v":6.4},{"s":"2024","d":343,"v":4.3},{"s":"2024","d":346,"v":5.3},{"s":"2024","d":348.4,"v":3.2},{"s":"2024","d":352,"v":4.1},{"s":"2024","d":355,"v":3.9},{"s":"2024","d":358.5,"v":5.4},{"s":"2024","d":361.5,"v":8},{"s":"2024","d":364,"v":10.4},{"s":"2024","d":366,"v":9.9},
{"s":"2025","d":1,"v":8},{"s":"2025","d":4,"v":8.9},{"s":"2025","d":6.6,"v":5.2},{"s":"2025","d":9,"v":3.3},{"s":"2025","d":12,"v":2.9},{"s":"2025","d":14.5,"v":1.2},{"s":"2025","d":18,"v":2.4},{"s":"2025","d":21,"v":2.9},{"s":"2025","d":23.5,"v":2.6},{"s":"2025","d":26,"v":4.3},{"s":"2025","d":29,"v":5.4},{"s":"2025","d":31,"v":7.9},{"s":"2025","d":36.5,"v":9.8},{"s":"2025","d":38,"v":8.5},{"s":"2025","d":39.5,"v":8.6},{"s":"2025","d":41.4,"v":5.8},{"s":"2025","d":45,"v":2},{"s":"2025","d":48,"v":1.2},{"s":"2025","d":51.6,"v":2.1},{"s":"2025","d":55,"v":1.8},{"s":"2025","d":59.4,"v":0.8},{"s":"2025","d":62.8,"v":0.2},{"s":"2025","d":66.8,"v":0.06},{"s":"2025","d":71.8,"v":0.6},{"s":"2025","d":75,"v":0.6},{"s":"2025","d":77.9,"v":2.1},{"s":"2025","d":82,"v":2},{"s":"2025","d":86.4,"v":1.2},{"s":"2025","d":88.6,"v":1.1},{"s":"2025","d":91.6,"v":2.3},{"s":"2025","d":95.4,"v":3.6},{"s":"2025","d":100,"v":3.5},{"s":"2025","d":102,"v":2.6},{"s":"2025","d":103.7,"v":0.8},{"s":"2025","d":107.7,"v":1.4},{"s":"2025","d":113,"v":1.2},{"s":"2025","d":115,"v":2},{"s":"2025","d":122,"v":1.8},{"s":"2025","d":126,"v":1.1},{"s":"2025","d":129.5,"v":0.05},{"s":"2025","d":132.5,"v":0.5},{"s":"2025","d":138,"v":0.5},{"s":"2025","d":141.4,"v":0.05},{"s":"2025","d":154,"v":0.02},{"s":"2025","d":154.5,"v":0.95},{"s":"2025","d":158,"v":1.1},{"s":"2025","d":160.5,"v":1.5},{"s":"2025","d":164,"v":1.5},{"s":"2025","d":166,"v":0.5},{"s":"2025","d":170.7,"v":0.35},{"s":"2025","d":173,"v":0.05},{"s":"2025","d":176,"v":0.25},{"s":"2025","d":181,"v":0.2},{"s":"2025","d":187.7,"v":0.05},{"s":"2025","d":209,"v":0.05},{"s":"2025","d":210.7,"v":0.5},{"s":"2025","d":218,"v":0.5},{"s":"2025","d":220,"v":0},{"s":"2025","d":239,"v":0},{"s":"2025","d":241,"v":0.65},{"s":"2025","d":248.4,"v":0.65},{"s":"2025","d":251,"v":0.05},{"s":"2025","d":262,"v":0.05},{"s":"2025","d":264.6,"v":0.25},{"s":"2025","d":266.4,"v":2.7},{"s":"2025","d":270,"v":2.8},{"s":"2025","d":275.4,"v":2.4},{"s":"2025","d":276.5,"v":0.05},{"s":"2025","d":281.4,"v":0.05},{"s":"2025","d":284,"v":1.5},{"s":"2025","d":286.6,"v":2.6},{"s":"2025","d":289,"v":3.2},{"s":"2025","d":291,"v":3.3},{"s":"2025","d":292,"v":6.9},{"s":"2025","d":294.5,"v":5.5},{"s":"2025","d":296.7,"v":4.2},{"s":"2025","d":300,"v":2.6},{"s":"2025","d":302,"v":0.25},{"s":"2025","d":305,"v":0.65},{"s":"2025","d":307,"v":3.2},{"s":"2025","d":310,"v":3.5},{"s":"2025","d":313.6,"v":5.5},{"s":"2025","d":317,"v":2.9},{"s":"2025","d":321.4,"v":2.6},{"s":"2025","d":323.7,"v":0.95},{"s":"2025","d":326.6,"v":0.95},{"s":"2025","d":329,"v":3.6},{"s":"2025","d":332,"v":2.7},{"s":"2025","d":336,"v":2.7},{"s":"2025","d":338.3,"v":7.3},{"s":"2025","d":340.5,"v":6.4},{"s":"2025","d":343,"v":10.4},{"s":"2025","d":345.5,"v":10.9},{"s":"2025","d":347.3,"v":8.8},{"s":"2025","d":348.4,"v":10.1},{"s":"2025","d":352,"v":11.8},{"s":"2025","d":355,"v":9.2},{"s":"2025","d":356.7,"v":6.7},{"s":"2025","d":359.6,"v":3},{"s":"2025","d":363,"v":2.9},{"s":"2025","d":364,"v":2.3},{"s":"2025","d":366,"v":3.2},
{"s":"2026","d":1,"v":3.9},{"s":"2026","d":3,"v":5.8},{"s":"2026","d":5.5,"v":6.1},{"s":"2026","d":9,"v":4.6},{"s":"2026","d":12,"v":2.9},{"s":"2026","d":14.5,"v":1.7},{"s":"2026","d":16.7,"v":3.8},{"s":"2026","d":20,"v":6.4},{"s":"2026","d":23.5,"v":6.5},{"s":"2026","d":26,"v":4.5},{"s":"2026","d":27,"v":5.2},{"s":"2026","d":29,"v":4.9},{"s":"2026","d":31,"v":9.1},{"s":"2026","d":34.7,"v":10.6},{"s":"2026","d":36.5,"v":10.7},{"s":"2026","d":38,"v":9.8},{"s":"2026","d":39,"v":12.3},{"s":"2026","d":40,"v":11.5},{"s":"2026","d":42,"v":14.6},{"s":"2026","d":45,"v":12.9},{"s":"2026","d":48,"v":11.8},{"s":"2026","d":50.4,"v":4.1},{"s":"2026","d":52.7,"v":1.2},{"s":"2026","d":55,"v":3.2},{"s":"2026","d":58,"v":5.7},{"s":"2026","d":59,"v":4.9},{"s":"2026","d":63,"v":4.5},{"s":"2026","d":66,"v":2.7},{"s":"2026","d":68.4,"v":3.2},{"s":"2026","d":70.7,"v":6.4},{"s":"2026","d":73,"v":9.7},{"s":"2026","d":74.5,"v":9.8},{"s":"2026","d":77.4,"v":7.9},{"s":"2026","d":82,"v":2.6},{"s":"2026","d":83,"v":1.8},{"s":"2026","d":85,"v":2.9},{"s":"2026","d":87.5,"v":2.6},{"s":"2026","d":89.8,"v":1.4},{"s":"2026","d":93,"v":3},{"s":"2026","d":98,"v":3.8},{"s":"2026","d":100,"v":3.8},{"s":"2026","d":102,"v":2.6},{"s":"2026","d":105.5,"v":2},{"s":"2026","d":107,"v":1.1},{"s":"2026","d":108.4,"v":0},{"s":"2026","d":128,"v":0},{"s":"2026","d":134.7,"v":0.2},{"s":"2026","d":139,"v":0.8},{"s":"2026","d":145,"v":0.95},{"s":"2026","d":149,"v":0.35},{"s":"2026","d":154,"v":0},{"s":"2026","d":161.7,"v":0},{"s":"2026","d":164,"v":0.8},{"s":"2026","d":166,"v":3.5},{"s":"2026","d":171.8,"v":3.6},{"s":"2026","d":174.5,"v":1.7},{"s":"2026","d":177,"v":3.2},{"s":"2026","d":184.4,"v":3.1},{"s":"2026","d":186.6,"v":0.5},{"s":"2026","d":189,"v":0.05},{"s":"2026","d":193.4,"v":0.05},{"s":"2026","d":195.6,"v":0.2},{"s":"2026","d":203.5,"v":0.15},{"s":"2026","d":205,"v":0.5},{"s":"2026","d":207.5,"v":3.5},{"s":"2026","d":214.7,"v":3.5},{"s":"2026","d":217,"v":0.2},{"s":"2026","d":223.7,"v":0.2},
{"s":"历史均值","d":1,"v":7.2},{"s":"历史均值","d":3,"v":8.2},{"s":"历史均值","d":6.6,"v":9.2},{"s":"历史均值","d":11,"v":9.3},{"s":"历史均值","d":15.6,"v":8},{"s":"历史均值","d":20,"v":6.9},{"s":"历史均值","d":24.6,"v":5.8},{"s":"历史均值","d":28,"v":7.3},{"s":"历史均值","d":32.5,"v":8.2},{"s":"历史均值","d":37,"v":7.5},{"s":"历史均值","d":40.3,"v":6.1},{"s":"历史均值","d":47,"v":6.6},{"s":"历史均值","d":55,"v":6.1},{"s":"历史均值","d":61.7,"v":6},{"s":"历史均值","d":68.4,"v":5.2},{"s":"历史均值","d":77.4,"v":5.2},{"s":"历史均值","d":84,"v":4.8},{"s":"历史均值","d":90,"v":3.9},{"s":"历史均值","d":95.4,"v":2.9},{"s":"历史均值","d":103,"v":3},{"s":"历史均值","d":112,"v":2.1},{"s":"历史均值","d":120,"v":1.5},{"s":"历史均值","d":128,"v":1.2},{"s":"历史均值","d":134.7,"v":0.9},{"s":"历史均值","d":139,"v":1.4},{"s":"历史均值","d":145,"v":2},{"s":"历史均值","d":151.6,"v":2.1},{"s":"历史均值","d":156,"v":1.5},{"s":"历史均值","d":161.7,"v":1.4},{"s":"历史均值","d":168.4,"v":0.8},{"s":"历史均值","d":175,"v":0.65},{"s":"历史均值","d":181,"v":0.5},{"s":"历史均值","d":190,"v":0.3},{"s":"历史均值","d":199,"v":0.35},{"s":"历史均值","d":208,"v":0.65},{"s":"历史均值","d":219,"v":0.5},{"s":"历史均值","d":230.4,"v":0.5},{"s":"历史均值","d":239,"v":0.55},{"s":"历史均值","d":248.4,"v":1.1},{"s":"历史均值","d":255,"v":1.6},{"s":"历史均值","d":264,"v":1.5},{"s":"历史均值","d":271,"v":2.1},{"s":"历史均值","d":280,"v":2.3},{"s":"历史均值","d":284,"v":3.2},{"s":"历史均值","d":293,"v":3.5},{"s":"历史均值","d":302,"v":4.2},{"s":"历史均值","d":310,"v":4.6},{"s":"历史均值","d":318,"v":5.1},{"s":"历史均值","d":325,"v":6},{"s":"历史均值","d":334,"v":6.3},{"s":"历史均值","d":343,"v":7.5},{"s":"历史均值","d":351,"v":7.8},{"s":"历史均值","d":355,"v":6.7},{"s":"历史均值","d":358.5,"v":6.1},{"s":"历史均值","d":363,"v":6},{"s":"历史均值","d":366,"v":6.6}],
"g":[{"m":"1月","s":"2025","v":122},{"m":"2月","s":"2025","v":86},{"m":"3月","s":"2025","v":39},{"m":"4月","s":"2025","v":63},{"m":"5月","s":"2025","v":5},{"m":"6月","s":"2025","v":19},{"m":"7月","s":"2025","v":3},{"m":"8月","s":"2025","v":7},{"m":"9月","s":"2025","v":28},{"m":"10月","s":"2025","v":76},{"m":"11月","s":"2025","v":90},{"m":"12月","s":"2025","v":230},
{"m":"1月","s":"2026","v":189},{"m":"2月","s":"2026","v":213},{"m":"3月","s":"2026","v":129},{"m":"4月","s":"2026","v":37},{"m":"5月","s":"2026","v":10},{"m":"6月","s":"2026","v":68},{"m":"7月","s":"2026","v":37},
{"m":"1月","s":"历史均值","v":250},{"m":"2月","s":"历史均值","v":185},{"m":"3月","s":"历史均值","v":151},{"m":"4月","s":"历史均值","v":65},{"m":"5月","s":"历史均值","v":47},{"m":"6月","s":"历史均值","v":23},{"m":"7月","s":"历史均值","v":13},{"m":"8月","s":"历史均值","v":15},{"m":"9月","s":"历史均值","v":51},{"m":"10月","s":"历史均值","v":108},{"m":"11月","s":"历史均值","v":166},{"m":"12月","s":"历史均值","v":221},
{"m":"1月","s":"历史最低值","v":72},{"m":"2月","s":"历史最低值","v":86},{"m":"3月","s":"历史最低值","v":39},{"m":"4月","s":"历史最低值","v":7},{"m":"5月","s":"历史最低值","v":5},{"m":"6月","s":"历史最低值","v":0},{"m":"7月","s":"历史最低值","v":0},{"m":"8月","s":"历史最低值","v":0},{"m":"9月","s":"历史最低值","v":3},{"m":"10月","s":"历史最低值","v":39},{"m":"11月","s":"历史最低值","v":77},{"m":"12月","s":"历史最低值","v":105},
{"m":"1月","s":"历史最高值","v":500},{"m":"2月","s":"历史最高值","v":459},{"m":"3月","s":"历史最高值","v":321},{"m":"4月","s":"历史最高值","v":148},{"m":"5月","s":"历史最高值","v":113},{"m":"6月","s":"历史最高值","v":133},{"m":"7月","s":"历史最高值","v":67},{"m":"8月","s":"历史最高值","v":68},{"m":"9月","s":"历史最高值","v":122},{"m":"10月","s":"历史最高值","v":184},{"m":"11月","s":"历史最高值","v":263},{"m":"12月","s":"历史最高值","v":323}]
},
"concat":[
{"width":670,"height":385,"title":{"text":"巴西圣保罗累计降雨量（mm）","dx":16,"dy":41},
"encoding":{"x":{"field":"d","type":"quantitative","scale":{"domain":[1,366],"range":[46.2,586.8],"nice":false,"zero":false},"axis":{"values":[1,32,61,92,122,153,183,214,245,275,306,336],"labelExpr":"(indexof([1,32,61,92,122,153,183,214,245,275,306,336],datum.value)+1)+'月1日'","labelAngle":-45,"labelAlign":"right","labelBaseline":"middle","offset":-63,"labelPadding":0}},"y":{"field":"v","type":"quantitative","scale":{"domain":[-100,1500],"range":[310,84.7],"nice":false,"zero":false},"axis":{"values":[-100,100,300,500,700,900,1100,1300,1500],"offset":-33}}},
"layer":[
{"data":{"name":"a"},"transform":[{"filter":"datum.s==='历史最高值'"}],"mark":{"type":"area","color":"#f2f2f2"}},
{"data":{"name":"a"},"transform":[{"filter":"datum.s==='历史最低值'"}],"mark":{"type":"area","color":"white"}},
{"data":{"values":[{"d":1,"d2":366,"v":0}]},"mark":{"type":"rule","color":"#d9d9d9","strokeWidth":2},"encoding":{"x2":{"field":"d2"}}},
{"data":{"values":[{"d":313,"v":134,"t":"大地期货"}]},"mark":{"type":"text","font":"Noto Sans CJK SC","fontWeight":"bold","fontSize":21,"color":"#e9edf1"},"encoding":{"text":{"field":"t"}}},
{"data":{"values":[{"d":313,"v":20,"t":"DADI FUTURES"}]},"mark":{"type":"text","font":"Noto Sans","fontWeight":"bold","fontSize":12.5,"color":"#edf0f3"},"encoding":{"text":{"field":"t"}}},
{"data":{"values":[{"d":267,"v":95}]},"mark":{"type":"point","shape":"square","size":1000,"color":"#e8eef6","strokeWidth":2}},
{"data":{"name":"a"},"transform":[{"filter":"datum.s!=='历史最高值'&&datum.s!=='历史最低值'"}],"mark":{"type":"line"},"encoding":{"color":{"field":"s","type":"nominal","scale":{"domain":["历史最高值","历史最低值","2024","2025","2026","历史均值"],"range":["#f2f2f2","#ffffff","#00b050","#00b0f0","#ff0000","#7f7f7f"]},"legend":{"columns":3,"gridAlign":"all","symbolType":"M-8.2,0L8.2,0","legendX":82.4,"legendY":56.7,"rowPadding":2.5,"columnPadding":39,"labelOffset":22.5}},"strokeWidth":{"field":"s","type":"nominal","scale":{"type":"ordinal","domain":["历史最高值","历史最低值","2024","2025","2026","历史均值"],"range":[9,9,1.5,1.5,4,1.5]}},"strokeDash":{"field":"s","type":"nominal","scale":{"domain":["历史最高值","历史最低值","2024","2025","2026","历史均值"],"range":[[1,0],[1,0],[1,0],[1,0],[1,0],[6,5]]}}}}
]},
{"width":670,"height":385,"title":{"text":"巴西圣保罗十天移动平均降雨量（mm）","dx":38.5,"dy":41},
"encoding":{"x":{"field":"d","type":"quantitative","scale":{"domain":[1,366],"range":[63.2,603.8],"nice":false,"zero":false},"axis":{"values":[1,32,61,92,122,153,183,214,245,275,306,336],"labelExpr":"(indexof([1,32,61,92,122,153,183,214,245,275,306,336],datum.value)+1)+'月'","labelAngle":0,"labelAlign":"center","domain":true,"offset":-66.7,"labelPadding":11}},"y":{"field":"v","type":"quantitative","scale":{"domain":[0,20],"range":[318.3,93],"nice":false,"zero":false},"axis":{"values":[0,2,4,6,8,10,12,14,16,18,20],"offset":-50.4}}},
"layer":[
{"data":{"name":"b"},"transform":[{"filter":"datum.s==='历史最高值'"}],"mark":{"type":"area","color":"#f2f2f2"}},
{"data":{"name":"b"},"transform":[{"filter":"datum.s==='历史最低值'"}],"mark":{"type":"area","color":"white"}},
{"data":{"values":[{"d":316,"v":3.7,"t":"大地期货"}]},"mark":{"type":"text","font":"Noto Sans CJK SC","fontWeight":"bold","fontSize":21,"color":"#e9edf1"},"encoding":{"text":{"field":"t"}}},
{"data":{"values":[{"d":316,"v":2.27,"t":"DADI FUTURES"}]},"mark":{"type":"text","font":"Noto Sans","fontWeight":"bold","fontSize":12.5,"color":"#edf0f3"},"encoding":{"text":{"field":"t"}}},
{"data":{"values":[{"d":271,"v":3.25}]},"mark":{"type":"point","shape":"square","size":1000,"color":"#e8eef6","strokeWidth":2}},
{"data":{"name":"b"},"transform":[{"filter":"datum.s!=='历史最高值'&&datum.s!=='历史最低值'"}],"mark":{"type":"line"},"encoding":{"color":{"field":"s","type":"nominal","scale":{"domain":["历史最高值","历史最低值","2024","2025","2026","历史均值"],"range":["#f2f2f2","#ffffff","#76933c","#1f497d","#ff0000","#7f7f7f"]},"legend":{"columns":3,"gridAlign":"all","symbolType":"M-8.2,0L8.2,0","legendX":105.9,"legendY":57.3,"rowPadding":3.5,"columnPadding":43,"labelOffset":23.5}},"strokeWidth":{"field":"s","type":"nominal","scale":{"type":"ordinal","domain":["历史最高值","历史最低值","2024","2025","2026","历史均值"],"range":[9,9,1.5,1.5,1.5,1.5]}},"strokeDash":{"field":"s","type":"nominal","scale":{"domain":["历史最高值","历史最低值","2024","2025","2026","历史均值"],"range":[[1,0],[1,0],[1,0],[1,0],[1,0],[6,5]]}}}}
]},
{"width":660,"height":385,"title":{"text":"巴西圣保罗月度累计降雨量（mm）","dx":60.2,"dy":41},
"encoding":{"x":{"field":"m","type":"nominal","sort":null,"scale":{"domain":["1月","2月","3月","4月","5月","6月","7月","8月","9月","10月","11月","12月"],"range":[86.3,622.9],"paddingInner":0.43,"paddingOuter":0.215},"axis":{"labelAngle":0,"domain":true,"offset":-50,"labelPadding":12}},"y":{"field":"v","type":"quantitative","scale":{"domain":[0,350],"range":[335,93],"nice":false,"zero":false},"axis":{"values":[0,50,100,150,200,250,300,350],"offset":-71.5}}},
"layer":[
{"data":{"name":"c"},"transform":[{"filter":"datum.s==='2025'||datum.s==='2026'"}],"mark":{"type":"bar"},"encoding":{"xOffset":{"field":"s","type":"nominal","scale":{"domain":["2025","2026"],"paddingInner":0,"paddingOuter":0}},"color":{"field":"s","type":"nominal","legend":{"columns":5,"gridAlign":"none","symbolType":"M-6.16,0L6.16,0","legendX":124.3,"legendY":53,"columnPadding":1.4,"labelOffset":12.2}}}},
{"data":{"values":[{"m":"11月","v":58,"t":"大地期货"}]},"mark":{"type":"text","font":"Noto Sans CJK SC","fontWeight":"bold","fontSize":21,"dx":-7,"color":"#e9edf1"},"encoding":{"text":{"field":"t"}}},
{"data":{"values":[{"m":"11月","v":34,"t":"DADI FUTURES"}]},"mark":{"type":"text","font":"Noto Sans","fontWeight":"bold","fontSize":12.5,"dx":-7,"color":"#edf0f3"},"encoding":{"text":{"field":"t"}}},
{"data":{"values":[{"m":"9月","v":50}]},"mark":{"type":"point","shape":"square","size":1000,"color":"#e8eef6","strokeWidth":2},"encoding":{"xOffset":{"value":13}}},
{"data":{"name":"c"},"transform":[{"filter":"datum.s!=='2025'&&datum.s!=='2026'"}],"mark":{"type":"line"},"encoding":{"color":{"field":"s","type":"nominal","scale":{"domain":["2025","2026","历史均值","历史最低值","历史最高值"],"range":["#d9a9a9","#c00000","#7f7f7f","#9dc3d8","#ff0000"]},"legend":{"columns":5,"gridAlign":"none","symbolType":"M-6.16,0L6.16,0","legendX":124.3,"legendY":53,"columnPadding":1.4,"labelOffset":12.2}},"strokeWidth":{"field":"s","type":"nominal","scale":{"type":"ordinal","domain":["2025","2026","历史均值","历史最低值","历史最高值"],"range":[8,8,1.5,1.5,1.5]}}}}
]},
{"width":670,"height":386,"title":{"text":"Ribeirao Preto累计降雨量（mm）","dx":16.7,"dy":54},
"encoding":{"x":{"field":"d","type":"quantitative","scale":{"domain":[1,366],"range":[46.2,588],"nice":false,"zero":false},"axis":{"values":[1,32,61,92,122,153,183,214,245,275,306,336],"labelExpr":"(indexof([1,32,61,92,122,153,183,214,245,275,306,336],datum.value)+1)+'月'","labelAngle":0,"labelAlign":"center","domain":true,"offset":-53.7,"labelPadding":12}},"y":{"field":"v","type":"quantitative","scale":{"domain":[0,1400],"range":[332.3,107],"nice":false,"zero":false},"axis":{"values":[0,200,400,600,800,1000,1200,1400],"offset":-33}}},
"layer":[
{"data":{"name":"e"},"transform":[{"filter":"datum.s==='历史最高值'"}],"mark":{"type":"area","color":"#f2f2f2"}},
{"data":{"name":"e"},"transform":[{"filter":"datum.s==='历史最低值'"}],"mark":{"type":"area","color":"white"}},
{"data":{"name":"e"},"transform":[{"filter":"datum.s!=='历史最高值'&&datum.s!=='历史最低值'"}],"mark":{"type":"line"},"encoding":{"color":{"field":"s","type":"nominal","scale":{"domain":["历史最高值","历史最低值","2024","2025","2026","历史均值"],"range":["#f2f2f2","#ffffff","#76933c","#1f497d","#ff0000","#7f7f7f"]},"legend":{"columns":2,"gridAlign":"all","symbolType":"M-8.2,0L8.2,0","legendX":86.5,"legendY":64.7,"rowPadding":-5,"columnPadding":43,"labelOffset":18.5}},"strokeWidth":{"field":"s","type":"nominal","scale":{"type":"ordinal","domain":["历史最高值","历史最低值","2024","2025","2026","历史均值"],"range":[9,9,1.5,1.5,1.5,1.5]}},"strokeDash":{"field":"s","type":"nominal","scale":{"domain":["历史最高值","历史最低值","2024","2025","2026","历史均值"],"range":[[1,0],[1,0],[1,0],[1,0],[1,0],[6,5]]}}}}
]},
{"width":670,"height":386,"title":{"text":"Ribeirao Preto十天移动平均降雨量（mm）","dx":37.6,"dy":54},
"encoding":{"x":{"field":"d","type":"quantitative","scale":{"domain":[1,366],"range":[63.2,603.8],"nice":false,"zero":false},"axis":{"values":[1,32,61,92,122,153,183,214,245,275,306,336],"labelExpr":"(indexof([1,32,61,92,122,153,183,214,245,275,306,336],datum.value)+1)+'月'","labelAngle":0,"labelAlign":"center","domain":true,"offset":-53.7,"labelPadding":12}},"y":{"field":"v","type":"quantitative","scale":{"domain":[0,20],"range":[332.3,107],"nice":false,"zero":false},"axis":{"values":[0,2,4,6,8,10,12,14,16,18,20],"offset":-50.4}}},
"layer":[
{"data":{"name":"f"},"transform":[{"filter":"datum.s==='历史最高值'"}],"mark":{"type":"area","color":"#f2f2f2"}},
{"data":{"name":"f"},"transform":[{"filter":"datum.s==='历史最低值'"}],"mark":{"type":"area","color":"white"}},
{"data":{"name":"f"},"transform":[{"filter":"datum.s!=='历史最高值'&&datum.s!=='历史最低值'"}],"mark":{"type":"line"},"encoding":{"color":{"field":"s","type":"nominal","scale":{"domain":["历史最高值","历史最低值","2024","2025","2026","历史均值"],"range":["#f2f2f2","#ffffff","#76933c","#1f497d","#ff0000","#7f7f7f"]},"legend":{"columns":2,"gridAlign":"all","symbolType":"M-8.2,0L8.2,0","legendX":105,"legendY":64.7,"rowPadding":-5,"columnPadding":43,"labelOffset":18.5}},"strokeWidth":{"field":"s","type":"nominal","scale":{"type":"ordinal","domain":["历史最高值","历史最低值","2024","2025","2026","历史均值"],"range":[9,9,1.5,1.5,1.5,1.5]}},"strokeDash":{"field":"s","type":"nominal","scale":{"domain":["历史最高值","历史最低值","2024","2025","2026","历史均值"],"range":[[1,0],[1,0],[1,0],[1,0],[1,0],[6,5]]}}}}
]},
{"width":660,"height":386,"title":{"text":"Ribeirao Preto月度累计降雨量（mm）","dx":60.2,"dy":54},
"encoding":{"x":{"field":"m","type":"nominal","sort":null,"scale":{"domain":["1月","2月","3月","4月","5月","6月","7月","8月","9月","10月","11月","12月"],"range":[86.3,625.4],"paddingInner":0.43,"paddingOuter":0.215},"axis":{"labelAngle":0,"domain":true,"offset":-37,"labelPadding":12}},"y":{"field":"v","type":"quantitative","scale":{"domain":[0,500],"range":[349,106.7],"nice":false,"zero":false},"axis":{"values":[0,50,100,150,200,250,300,350,400,450,500],"offset":-71.5}}},
"layer":[
{"data":{"name":"g"},"transform":[{"filter":"datum.s==='2025'||datum.s==='2026'"}],"mark":{"type":"bar"},"encoding":{"xOffset":{"field":"s","type":"nominal","scale":{"domain":["2025","2026"],"paddingInner":0,"paddingOuter":0}},"color":{"field":"s","type":"nominal","legend":{"columns":5,"gridAlign":"none","symbolType":"M-6.16,0L6.16,0","legendX":102.3,"legendY":66.7,"columnPadding":11,"labelOffset":12.2}}}},
{"data":{"values":[{"m":"11月","v":118,"t":"大地期货"}]},"mark":{"type":"text","font":"Noto Sans CJK SC","fontWeight":"bold","fontSize":21,"dx":-16,"color":"#e9edf1"},"encoding":{"text":{"field":"t"}}},
{"data":{"values":[{"m":"11月","v":85,"t":"DADI FUTURES"}]},"mark":{"type":"text","font":"Noto Sans","fontWeight":"bold","fontSize":12.5,"dx":-16,"color":"#edf0f3"},"encoding":{"text":{"field":"t"}}},
{"data":{"values":[{"m":"9月","v":108}]},"mark":{"type":"point","shape":"square","size":1000,"color":"#e8eef6","strokeWidth":2},"encoding":{"xOffset":{"value":5}}},
{"data":{"name":"g"},"transform":[{"filter":"datum.s!=='2025'&&datum.s!=='2026'"}],"mark":{"type":"line"},"encoding":{"color":{"field":"s","type":"nominal","scale":{"domain":["2025","2026","历史均值","历史最低值","历史最高值"],"range":["#e6b8b8","#c00000","#7f7f7f","#b4c7e7","#ff0000"]},"legend":{"columns":5,"gridAlign":"none","symbolType":"M-6.16,0L6.16,0","legendX":102.3,"legendY":66.7,"columnPadding":11,"labelOffset":12.2}},"strokeWidth":{"field":"s","type":"nominal","scale":{"type":"ordinal","domain":["2025","2026","历史均值","历史最低值","历史最高值"],"range":[8,8,1.5,1.5,1.5]}}}}
]}
]}
